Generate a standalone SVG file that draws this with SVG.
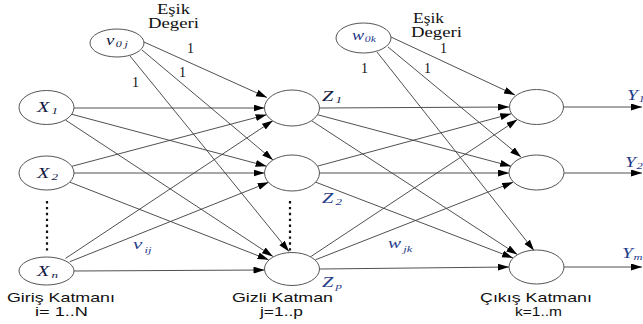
<svg xmlns="http://www.w3.org/2000/svg" width="643" height="324" viewBox="0 0 643 324">
<style>
.nd{fill:#fff;stroke:#555;stroke-width:1}
.cn line{stroke:#3c3c3c;stroke-width:0.9;fill:none}
.ar{marker-end:url(#ah)}
.m{font-family:"Liberation Serif","Times New Roman",serif;font-style:italic;font-size:14px}
.dk{fill:#12173f}
.bl{fill:#1e3a8a}
.sb{font-size:9px}
.one{font-family:"Liberation Serif","Times New Roman",serif;font-size:14px;fill:#111}
.cap{font-family:"Liberation Sans",Arial,sans-serif;font-size:13.5px;fill:#111}
.cn line.dots{stroke:#111;stroke-width:2.2;stroke-dasharray:2.4 3.5}
</style>
<defs>
<marker id="ah" markerUnits="userSpaceOnUse" markerWidth="12" markerHeight="8" refX="11" refY="3.5" orient="auto">
<path d="M0,0 L11,3.5 L0,7 z" fill="#000"/>
</marker>
</defs>
<rect width="643" height="324" fill="#fff"/>

<g id="connectors" class="cn">
<line class="ar" x1="144" y1="42" x2="267" y2="97.5"/>
<line class="ar" x1="142" y1="50" x2="273" y2="160"/>
<line class="ar" x1="130" y1="56" x2="289" y2="251.5"/>
<line class="ar" x1="74" y1="108" x2="264.5" y2="108"/>
<line class="ar" x1="71.9" y1="114.3" x2="266.6" y2="166.2"/>
<line class="ar" x1="65.6" y1="120.1" x2="272.9" y2="256.4"/>
<line class="ar" x1="71.9" y1="166.3" x2="266.6" y2="114.7"/>
<line class="ar" x1="74" y1="173" x2="264.5" y2="173"/>
<line class="ar" x1="69.9" y1="182.2" x2="268.6" y2="259.8"/>
<line class="ar" x1="65.5" y1="258.4" x2="273" y2="120.6"/>
<line class="ar" x1="69.8" y1="261.7" x2="268.7" y2="182.3"/>
<line class="ar" x1="74" y1="271" x2="264.5" y2="270"/>
<line class="ar" x1="391" y1="37" x2="515" y2="95"/>
<line class="ar" x1="388" y1="47" x2="521" y2="157"/>
<line class="ar" x1="377" y1="52" x2="534" y2="250.5"/>
<line class="ar" x1="319.5" y1="108" x2="509" y2="107"/>
<line class="ar" x1="317.4" y1="114.7" x2="511.1" y2="166.3"/>
<line class="ar" x1="311.2" y1="120.5" x2="517.3" y2="254.5"/>
<line class="ar" x1="317.3" y1="166.2" x2="511.2" y2="113.8"/>
<line class="ar" x1="319.5" y1="173" x2="509" y2="173"/>
<line class="ar" x1="315.5" y1="182.1" x2="513" y2="257.9"/>
<line class="ar" x1="311.1" y1="256.4" x2="517.4" y2="119.6"/>
<line class="ar" x1="315.4" y1="259.8" x2="513.1" y2="182.2"/>
<line class="ar" x1="319.5" y1="269" x2="509" y2="267"/>
<line class="ar" x1="564" y1="107" x2="642" y2="107"/>
<line class="ar" x1="564" y1="173" x2="642" y2="173"/>
<line class="ar" x1="564" y1="267" x2="642" y2="267"/>
<line class="dots" x1="47" y1="201" x2="47" y2="251"/>
<line class="dots" x1="290" y1="201" x2="290" y2="251"/>
</g>

<g id="v0j">
<ellipse class="nd" cx="117" cy="43" rx="27" ry="14"/>
<text class="m dk" transform="translate(106 45) scale(1.35 1)">v<tspan class="sb" dy="2" dx="1">0</tspan><tspan class="sb" dx="2">j</tspan></text>
</g>
<g id="w0k">
<ellipse class="nd" cx="363.5" cy="38" rx="27.5" ry="15"/>
<text class="m bl" transform="translate(352 40) scale(1.3 1)">w<tspan class="sb" dy="2" dx="0.5">0k</tspan></text>
</g>

<g id="X1">
<ellipse class="nd" cx="46.5" cy="107.5" rx="27.5" ry="17"/>
<text class="m dk" transform="translate(37 112) scale(1.45 1)">X<tspan class="sb" dy="2" dx="1.5">1</tspan></text>
</g>
<g id="X2">
<ellipse class="nd" cx="46.5" cy="173" rx="27.5" ry="17"/>
<text class="m dk" transform="translate(37 178) scale(1.45 1)">X<tspan class="sb" dy="2" dx="1.5">2</tspan></text>
</g>
<g id="Xn">
<ellipse class="nd" cx="46.5" cy="271" rx="27.5" ry="14"/>
<text class="m dk" transform="translate(37 276) scale(1.45 1)">X<tspan class="sb" dy="2" dx="1.5">n</tspan></text>
</g>

<g id="Z1">
<ellipse class="nd" cx="292" cy="108" rx="27.5" ry="18"/>
<text class="m dk" transform="translate(322 101) scale(1.45 1)">Z<tspan class="sb" dy="2" dx="1.5">1</tspan></text>
</g>
<g id="Z2">
<ellipse class="nd" cx="292" cy="173" rx="27.5" ry="18"/>
<text class="m bl" transform="translate(322 203) scale(1.45 1)">Z<tspan class="sb" dy="2" dx="1.5">2</tspan></text>
</g>
<g id="Zp">
<ellipse class="nd" cx="292" cy="269" rx="27.5" ry="16.5"/>
<text class="m bl" transform="translate(322 287) scale(1.45 1)">Z<tspan class="sb" dy="2" dx="1.5">p</tspan></text>
</g>

<g id="Y1">
<ellipse class="nd" cx="536.5" cy="107" rx="27" ry="17.5"/>
<text class="m bl" transform="translate(627 100) scale(1.4 1)">Y<tspan class="sb" dy="2" dx="0.5">1</tspan></text>
</g>
<g id="Y2">
<ellipse class="nd" cx="536.5" cy="172.5" rx="27.5" ry="17.5"/>
<text class="m bl" transform="translate(625 167) scale(1.4 1)">Y<tspan class="sb" dy="2" dx="0.5">2</tspan></text>
</g>
<g id="Ym">
<ellipse class="nd" cx="536.5" cy="267" rx="27.5" ry="17"/>
<text class="m bl" transform="translate(622 258) scale(1.4 1)">Y<tspan class="sb" dy="2" dx="0.5">m</tspan></text>
</g>

<g id="weights">
<text class="m bl" transform="translate(133 249) scale(1.4 1)" style="font-size:15px">v<tspan class="sb" dy="4" dx="1.5">ij</tspan></text>
<text class="m bl" transform="translate(388 248) scale(1.4 1)">w<tspan class="sb" dy="4" dx="1.5">jk</tspan></text>
<text class="one" x="187" y="53">1</text>
<text class="one" x="179" y="77">1</text>
<text class="one" x="132" y="87">1</text>
<text class="one" x="440" y="53">1</text>
<text class="one" x="361" y="73">1</text>
<text class="one" x="424" y="73">1</text>
</g>

<g id="labels">
<text class="one" x="157" y="14" textLength="33" lengthAdjust="spacingAndGlyphs">Eşik</text>
<text class="one" x="148" y="28" textLength="51" lengthAdjust="spacingAndGlyphs">Degeri</text>
<text class="one" x="413" y="23" textLength="31" lengthAdjust="spacingAndGlyphs">Eşik</text>
<text class="one" x="411" y="37" textLength="51" lengthAdjust="spacingAndGlyphs">Degeri</text>
<text class="cap" x="7" y="302" textLength="108" lengthAdjust="spacingAndGlyphs">Giriş Katmanı</text>
<text class="cap" x="35" y="316" textLength="53" lengthAdjust="spacingAndGlyphs">i= 1..N</text>
<text class="cap" x="232" y="302" textLength="101" lengthAdjust="spacingAndGlyphs">Gizli Katman</text>
<text class="cap" x="260" y="316" textLength="43" lengthAdjust="spacingAndGlyphs">j=1..p</text>
<text class="cap" x="480" y="302" textLength="112" lengthAdjust="spacingAndGlyphs">Çıkış Katmanı</text>
<text class="cap" x="515" y="316" textLength="47" lengthAdjust="spacingAndGlyphs">k=1..m</text>
</g>
</svg>
